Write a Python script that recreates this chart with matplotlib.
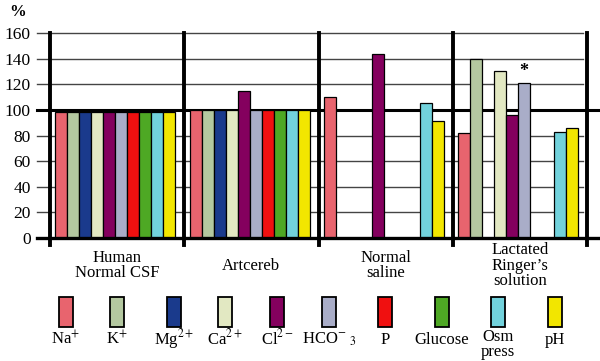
import matplotlib
matplotlib.use("Agg")
import matplotlib.pyplot as plt
from matplotlib.patches import Rectangle

plt.rcParams['font.family'] = ['Liberation Serif', 'DejaVu Serif']
plt.rcParams['mathtext.fontset'] = 'stix'

ions = ['Na$^{+}$', 'K$^{+}$', 'Mg$^{2+}$', 'Ca$^{2+}$', 'Cl$^{2-}$',
        'HCO$^{-}$$_{\\ 3}$', 'P', 'Glucose', 'Osm\npress', 'pH']
colors = ['#E8646E', '#B4C8A0', '#1A3A8C', '#E2E8C2', '#84005E',
          '#A9ADC8', '#F01010', '#4EA824', '#72D2DC', '#F2E600']
groups = ['Human\nNormal CSF', 'Artcereb', 'Normal\nsaline', "Lactated\nRinger\u2019s\nsolution"]

human_csf = [98, 98, 98, 98, 98, 98, 98, 98, 98, 98]
artcereb = [100, 100, 100, 100, 115, 100, 100, 100, 100, 100]
saline = [110, 0, 0, 0, 144, 0, 0, 0, 105, 91]
ringer = [82, 140, 0, 130, 96, 121, 0, 0, 83, 86]
values = [human_csf, artcereb, saline, ringer]
yticks = [0, 20, 40, 60, 80, 100, 120, 140, 160]

G = 11.2  # width of one group in bar units

fig = plt.figure(figsize=(6, 3.61), dpi=100)
ax = fig.add_axes([50 / 600, 1 - 238 / 361, 537 / 600, 205 / 361])
ax.set_xlim(0, 4 * G)
ax.set_ylim(0, 160)

# grid
for t in yticks[1:]:
    if t == 100:
        ax.plot([-1.1, 4 * G + 1.1], [t, t], color='black', lw=2.2, clip_on=False, zorder=1)
    else:
        ax.plot([-1.1, 4 * G - 0.3], [t, t], color='#444444', lw=1, clip_on=False, zorder=1)

for gi, vals in enumerate(values):
    for j, v in enumerate(vals):
        x = gi * G + 0.45 + j + 0.5
        ax.bar(x, v, width=1.0, color=colors[j], edgecolor='black', linewidth=0.9, zorder=2)
    ax.text(gi * G + G / 2, -0.135, groups[gi], transform=ax.get_xaxis_transform(),
            ha='center', va='center', fontsize=12, linespacing=0.95)

# asterisk over HCO3 in Lactated Ringer's
ax.text(3 * G + 0.45 + 5 + 0.5, ringer[5] + 2, '*', ha='center', va='bottom',
        fontsize=13, fontweight='bold')

# separators and outer frame
for k in range(5):
    ax.plot([k * G, k * G], [-5.5, 160], color='black', lw=2.8, clip_on=False, zorder=3)
ax.plot([-1.1, 4 * G + 1.1], [0, 0], color='black', lw=2.4, clip_on=False, zorder=3)

for s in ax.spines.values():
    s.set_visible(False)
ax.set_xticks([])
ax.set_yticks(yticks)
ax.tick_params(axis='y', length=0, pad=14, labelsize=12.5)
ax.text(-0.06, 1.1, '%', transform=ax.transAxes, fontsize=12, fontweight='bold',
        ha='center', va='center')

# legend
centers = [66, 117, 174, 225, 277, 329, 385, 442, 498, 555]
for c, col, lab in zip(centers, colors, ions):
    fig.patches.append(Rectangle(((c - 7) / 600, 1 - 327 / 361), 14 / 600, 30 / 361,
                                 transform=fig.transFigure, facecolor=col,
                                 edgecolor='black', linewidth=1.3))
    if '\n' in lab:
        fig.text(c / 600, 1 - 329 / 361, lab, ha='center', va='top', fontsize=12,
                 linespacing=0.9)
    else:
        fig.text(c / 600, 1 - 344 / 361, lab, ha='center', va='baseline', fontsize=12)

fig.savefig('out.png', dpi=100)
